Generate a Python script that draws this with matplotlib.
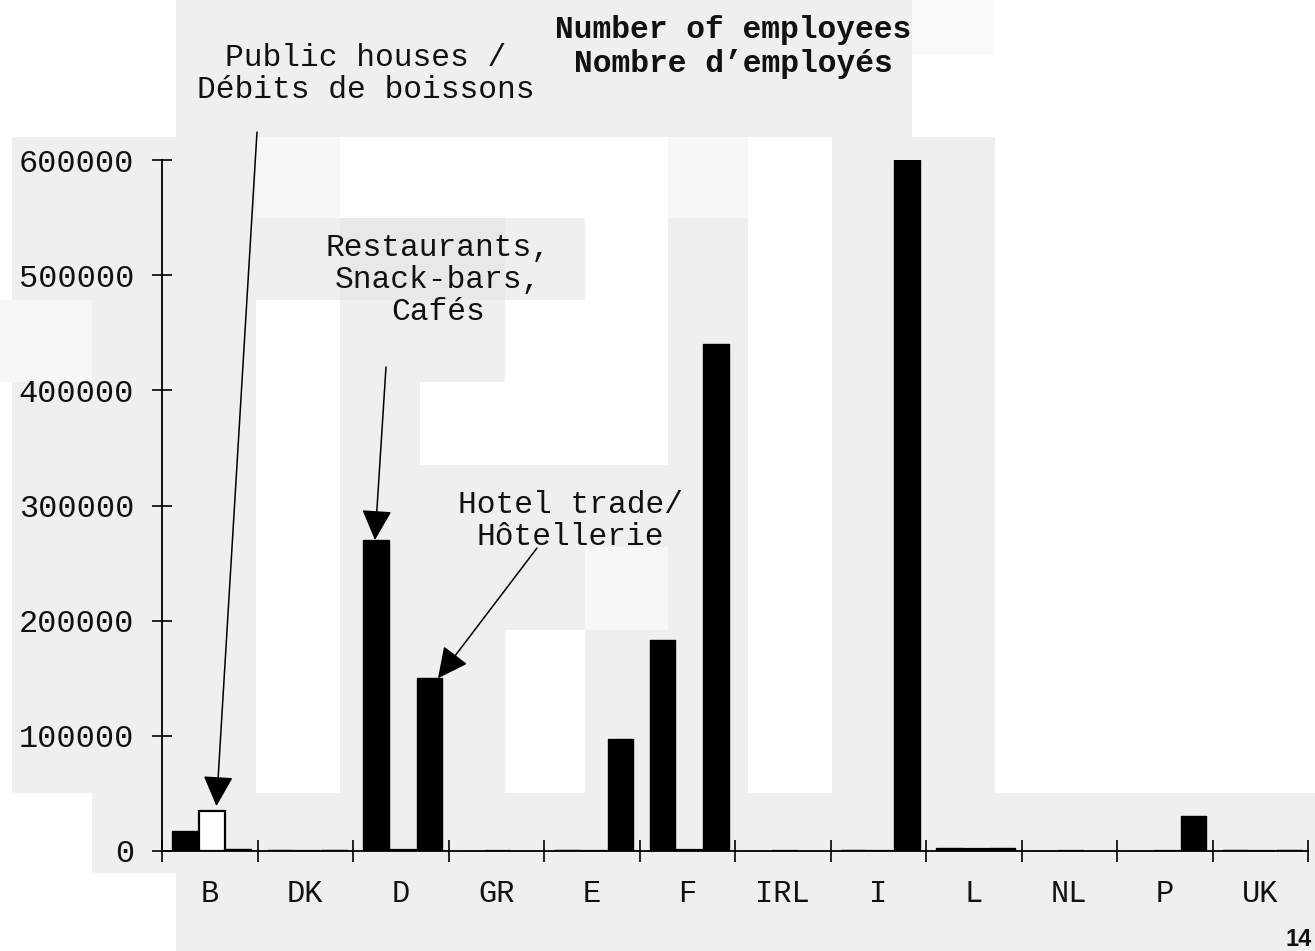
import matplotlib.pyplot as plt
from matplotlib.patches import Rectangle

countries = ['B', 'DK', 'D', 'GR', 'E', 'F', 'IRL', 'I', 'L', 'NL', 'P', 'UK']
# Restaurants, snack-bars, cafés / public houses / hotel trade
restaurants = [17000, 600, 270000, 0, 500, 183000, 0, 1000, 2500, 0, 0, 1000]
pubs = [35000, 0, 1000, 0, 0, 1000, 0, 0, 2000, 0, 0, 0]
hotels = [2000, 600, 150000, 0, 97000, 440000, 0, 600000, 3000, 0, 30000, 800]
yticks = [0, 100000, 200000, 300000, 400000, 500000, 600000]

W, H = 1315, 951
GRAY = '#efefef'
MONO = 'Liberation Mono'

# light patches left by the scan (pixel boxes x0, x1, y0, y1 from the top)
scan_patches = [
    (0, 176, 0, 137, 'white'), (912, 1315, 55, 137, 'white'),
    (995, 1315, 0, 55, 'white'), (912, 995, 0, 55, '#fafafa'),
    (0, 12, 137, 793, 'white'), (0, 92, 300, 382, '#f7f7f7'),
    (256, 340, 137, 218, '#f7f7f7'), (340, 668, 137, 218, 'white'),
    (585, 668, 218, 465, 'white'), (505, 585, 300, 465, 'white'),
    (420, 505, 382, 465, 'white'), (256, 340, 300, 793, 'white'),
    (505, 585, 630, 793, 'white'), (585, 668, 547, 630, '#f7f7f7'),
    (668, 748, 137, 218, '#f7f7f7'), (748, 832, 137, 793, 'white'),
    (995, 1315, 137, 793, 'white'), (0, 92, 793, 873, 'white'),
    (0, 176, 873, 951, 'white'), (340, 505, 218, 300, '#e8e8e8'),
]

fig = plt.figure(figsize=(W / 100, H / 100), dpi=100, facecolor=GRAY)
for x0, x1, y0, y1, c in scan_patches:
    fig.add_artist(Rectangle((x0 / W, 1 - y1 / H), (x1 - x0) / W, (y1 - y0) / H,
                             transform=fig.transFigure, color=c, lw=0, zorder=-10))

ax = fig.add_axes([162 / W, 100 / H, (1308 - 162) / W, (851 - 160) / H])
ax.patch.set_alpha(0)

n = len(countries)
bw = 0.27
xs = list(range(n))
ax.bar([x + 0.24 for x in xs], restaurants, bw, color='black', edgecolor='black', lw=1)
ax.bar([x + 0.52 for x in xs], pubs, bw, color='white', edgecolor='black', lw=1.6)
ax.bar([x + 0.80 for x in xs], hotels, bw, color='black', edgecolor='black', lw=1)

ax.set_xlim(0, n)
ax.set_ylim(0, 600000)
for s in ['top', 'right']:
    ax.spines[s].set_visible(False)
for s in ['left', 'bottom']:
    ax.spines[s].set_linewidth(1.3)

ax.set_yticks(yticks)
ax.set_yticklabels([str(v) for v in yticks], fontfamily=MONO, fontsize=23, color='#111')
ax.tick_params(axis='y', direction='inout', length=14, width=1.2, pad=13)

ax.set_xticks(range(n + 1))
ax.set_xticklabels([])
ax.tick_params(axis='x', which='major', direction='inout', length=16, width=1.2)
ax.set_xticks([x + 0.5 for x in xs], minor=True)
ax.set_xticklabels(countries, minor=True, fontfamily=MONO, fontsize=22, color='#111')
ax.tick_params(axis='x', which='minor', length=0, pad=20)

# title and labels
fig.text(733 / W, 1 - 47 / H, "Number of employees\nNombre d\u2019employ\u00e9s",
         ha='center', va='center', fontfamily=MONO, fontsize=22.5,
         fontweight='bold', linespacing=1.2, color='#111')
fig.text(366 / W, 1 - 74 / H, "Public houses /\nD\u00e9bits de boissons",
         ha='center', va='center', fontfamily=MONO, fontsize=22.5,
         linespacing=1.12, color='#111')
fig.text(438 / W, 1 - 280 / H, "Restaurants,\nSnack-bars,\nCaf\u00e9s",
         ha='center', va='center', fontfamily=MONO, fontsize=22.5,
         linespacing=1.1, color='#111')
fig.text(570 / W, 1 - 521 / H, "Hotel trade/\nH\u00f4tellerie",
         ha='center', va='center', fontfamily=MONO, fontsize=22.5,
         linespacing=1.1, color='#111')

arrow = dict(arrowstyle='-|>,head_length=0.95,head_width=0.47', mutation_scale=20,
             color='black', lw=1.1, shrinkA=0, shrinkB=0)
ax.annotate('', xy=(0.57, pubs[0] + 4000), xytext=(257, H - 132),
            textcoords='figure pixels', arrowprops=arrow)
ax.annotate('', xy=(2.23, restaurants[2]), xytext=(386, H - 367),
            textcoords='figure pixels', arrowprops=arrow)
ax.annotate('', xy=(2.89, hotels[2]), xytext=(537, H - 548),
            textcoords='figure pixels', arrowprops=arrow)

fig.text(1312 / W, 1 - 928 / H, "14", ha='right', va='top',
         fontfamily='Liberation Sans', fontweight='bold', fontsize=17, color='#111')

fig.savefig('out.png', dpi=100, facecolor=GRAY)
